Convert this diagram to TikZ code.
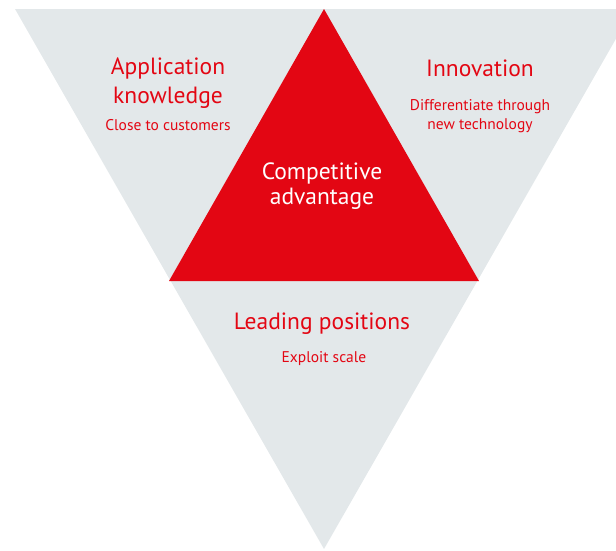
\documentclass[tikz,border=0pt]{standalone}
\usepackage{fontspec}
\setmainfont{PT Sans}
\definecolor{brandred}{HTML}{E30613}
\definecolor{panelgray}{HTML}{E3E8EA}
\begin{document}
\begin{tikzpicture}[x=1pt,y=-1pt,
  bigtxt/.style={text=brandred,font=\fontsize{23.5}{29}\selectfont,align=center,inner sep=0pt},
  smalltxt/.style={text=brandred,font=\fontsize{15.5}{19}\selectfont,align=center,inner sep=0pt},
  whitetxt/.style={text=white,font=\fontsize{23.5}{25}\selectfont,align=center,inner sep=0pt}]
\useasboundingbox (0,0) rectangle (616,550);
\begin{scope}
\clip (0,0) rectangle (616,550);
\fill[panelgray] (15,9) -- (633,9) -- (324,549) -- cycle;
\end{scope}
\fill[brandred] (324,9) -- (479,281) -- (169,281) -- cycle;
\node[bigtxt] (app) at (168,83) {Application\\knowledge};
\node[smalltxt] (appsub) at (168,125.5) {Close to customers};
\node[bigtxt] (inn) at (480,68.5) {Innovation};
\node[smalltxt] (innsub) at (480,116) {Differentiate through\\new technology};
\node[whitetxt] (comp) at (322,186) {Competitive\\advantage};
\node[bigtxt] (lead) at (322,323.5) {Leading positions};
\node[smalltxt] (leadsub) at (324,358.5) {Exploit scale};
\end{tikzpicture}
\end{document}
